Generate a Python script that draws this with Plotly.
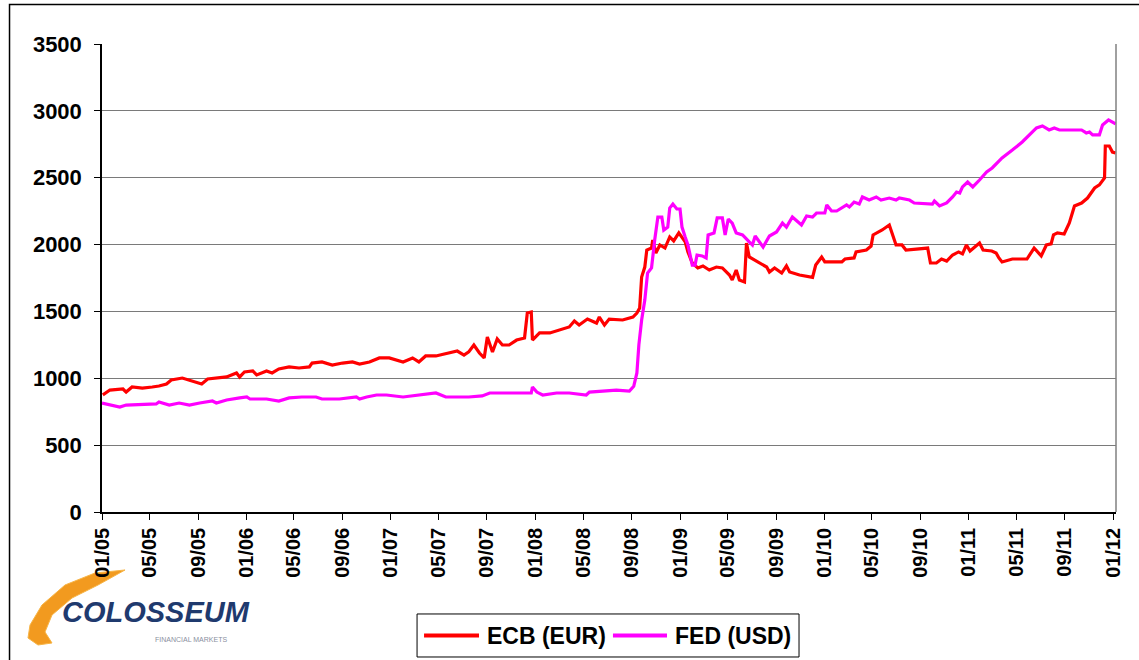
import plotly.graph_objects as go

ecb_dates = [
    "2005-01-03", "2005-01-21", "2005-02-23", "2005-03-03", "2005-03-18", "2005-04-13", "2005-05-08",
    "2005-05-25", "2005-06-13", "2005-06-25", "2005-07-23", "2005-08-18", "2005-09-10", "2005-09-25",
    "2005-10-25", "2005-11-12", "2005-12-07", "2005-12-15", "2005-12-27", "2006-01-17", "2006-01-27",
    "2006-02-21", "2006-03-07", "2006-03-24", "2006-04-19", "2006-05-14", "2006-06-09", "2006-06-16",
    "2006-07-11", "2006-08-06", "2006-09-01", "2006-09-26", "2006-10-14", "2006-11-08", "2006-12-03",
    "2006-12-28", "2007-02-01", "2007-02-25", "2007-03-13", "2007-03-30", "2007-04-25", "2007-05-20",
    "2007-06-18", "2007-07-05", "2007-07-17", "2007-07-30", "2007-08-13", "2007-08-25", "2007-09-02",
    "2007-09-15", "2007-09-27", "2007-10-10", "2007-10-27", "2007-11-15", "2007-12-05", "2007-12-12",
    "2007-12-22", "2007-12-25", "2008-01-12", "2008-02-07", "2008-03-02", "2008-03-27", "2008-04-09",
    "2008-04-21", "2008-05-12", "2008-06-04", "2008-06-11", "2008-06-24", "2008-07-06", "2008-08-09",
    "2008-09-04", "2008-09-14", "2008-09-21", "2008-09-26", "2008-10-04", "2008-10-09", "2008-10-21",
    "2008-10-24", "2008-11-01", "2008-11-11", "2008-11-24", "2008-12-06", "2008-12-16", "2008-12-29",
    "2009-01-14", "2009-01-21", "2009-02-01", "2009-02-15", "2009-02-28", "2009-03-16", "2009-04-03",
    "2009-04-18", "2009-05-06", "2009-05-13", "2009-05-23", "2009-05-31", "2009-06-13", "2009-06-18",
    "2009-06-25", "2009-07-20", "2009-08-08", "2009-08-15", "2009-08-28", "2009-09-15", "2009-09-27",
    "2009-10-05", "2009-10-30", "2009-12-02", "2009-12-10", "2009-12-25", "2010-01-02", "2010-02-14",
    "2010-02-22", "2010-03-17", "2010-03-22", "2010-04-17", "2010-04-29", "2010-05-04", "2010-05-27",
    "2010-06-14", "2010-07-01", "2010-07-16", "2010-07-26", "2010-09-19", "2010-09-26", "2010-10-11",
    "2010-10-24", "2010-11-06", "2010-11-21", "2010-12-06", "2010-12-16", "2010-12-26", "2011-01-04",
    "2011-01-16", "2011-01-28", "2011-02-06", "2011-02-28", "2011-03-11", "2011-03-18", "2011-03-26",
    "2011-04-21", "2011-05-28", "2011-06-15", "2011-07-03", "2011-07-16", "2011-07-28", "2011-08-03",
    "2011-08-13", "2011-08-30", "2011-09-12", "2011-09-25", "2011-10-13", "2011-10-28", "2011-11-15",
    "2011-11-27", "2011-12-10", "2011-12-12", "2011-12-22", "2011-12-30", "2012-01-07",
]
ecb_values = [
    875, 912, 920, 897, 935, 927, 935,
    942, 957, 987, 1002, 980, 957, 995,
    1002, 1010, 1040, 1010, 1047, 1055, 1025,
    1055, 1040, 1070, 1085, 1077, 1085, 1114,
    1122, 1099, 1114, 1122, 1107, 1122, 1152,
    1152, 1122, 1152, 1122, 1167, 1167, 1182,
    1204, 1174, 1197, 1249, 1189, 1152, 1309,
    1197, 1294, 1249, 1249, 1286, 1301, 1488,
    1496, 1286, 1339, 1339, 1361, 1384, 1428,
    1398, 1443, 1413, 1458, 1398, 1443, 1436,
    1458, 1488, 1525, 1758, 1832, 1959, 1974,
    2034, 1937, 1997, 1974, 2057, 2027, 2087,
    2020, 1945, 1862, 1825, 1840, 1810, 1832,
    1825, 1772, 1735, 1810, 1735, 1720, 2012,
    1907, 1862, 1832, 1795, 1825, 1787, 1840,
    1795, 1772, 1755, 1847, 1907, 1870, 1870,
    1892, 1900, 1945, 1959, 1989, 2072, 2109,
    2146, 1997, 1997, 1959, 1974, 1862, 1862,
    1892, 1877, 1922, 1945, 1930, 1997, 1952,
    1982, 2012, 1959, 1952, 1937, 1900, 1870,
    1892, 1892, 1974, 1915, 1997, 2005, 2072,
    2087, 2079, 2161, 2289, 2311, 2348, 2423,
    2446, 2498, 2737, 2737, 2692, 2685,
]

fed_dates = [
    "2005-01-01", "2005-02-15", "2005-03-03", "2005-05-18", "2005-05-25", "2005-06-20", "2005-07-15",
    "2005-08-10", "2005-09-05", "2005-10-07", "2005-10-17", "2005-11-12", "2005-12-15", "2006-01-02",
    "2006-01-10", "2006-02-21", "2006-03-24", "2006-04-19", "2006-05-21", "2006-06-26", "2006-07-11",
    "2006-08-24", "2006-10-06", "2006-10-14", "2006-11-01", "2006-11-26", "2006-12-21", "2007-02-01",
    "2007-04-25", "2007-05-20", "2007-07-17", "2007-08-20", "2007-09-08", "2007-10-10", "2007-12-22",
    "2007-12-25", "2008-01-05", "2008-01-20", "2008-02-24", "2008-03-27", "2008-05-09", "2008-05-17",
    "2008-06-19", "2008-07-24", "2008-08-26", "2008-09-06", "2008-09-14", "2008-09-19", "2008-09-26",
    "2008-10-04", "2008-10-11", "2008-10-21", "2008-10-29", "2008-11-06", "2008-11-16", "2008-11-21",
    "2008-12-01", "2008-12-06", "2008-12-14", "2008-12-24", "2009-01-01", "2009-01-06", "2009-01-14",
    "2009-01-21", "2009-02-01", "2009-02-08", "2009-02-13", "2009-02-26", "2009-03-08", "2009-03-13",
    "2009-03-28", "2009-04-05", "2009-04-18", "2009-04-25", "2009-05-03", "2009-05-13", "2009-05-23",
    "2009-06-08", "2009-06-25", "2009-07-03", "2009-07-10", "2009-07-20", "2009-07-30", "2009-08-15",
    "2009-09-02", "2009-09-17", "2009-09-27", "2009-10-12", "2009-11-04", "2009-11-17", "2009-12-02",
    "2009-12-12", "2010-01-02", "2010-01-07", "2010-01-19", "2010-02-01", "2010-02-16", "2010-02-26",
    "2010-03-05", "2010-03-17", "2010-03-30", "2010-04-07", "2010-04-24", "2010-05-12", "2010-05-24",
    "2010-06-14", "2010-07-01", "2010-07-09", "2010-08-04", "2010-08-16", "2010-10-01", "2010-10-06",
    "2010-10-19", "2010-11-06", "2010-11-21", "2010-12-01", "2010-12-09", "2010-12-16", "2010-12-29",
    "2011-01-11", "2011-01-28", "2011-02-15", "2011-03-01", "2011-03-13", "2011-03-26", "2011-04-21",
    "2011-05-16", "2011-06-21", "2011-07-06", "2011-07-23", "2011-08-05", "2011-08-18", "2011-10-13",
    "2011-10-25", "2011-11-02", "2011-11-10", "2011-11-27", "2011-12-05", "2011-12-20", "2012-01-07",
]
fed_values = [
    815, 785, 800, 808, 823, 800, 815,
    800, 815, 830, 815, 838, 853, 860,
    845, 845, 830, 853, 860, 860, 845,
    845, 860, 845, 860, 875, 875, 860,
    890, 860, 860, 868, 890, 890, 890,
    935, 897, 875, 890, 890, 875, 897,
    905, 912, 905, 940, 1040, 1250, 1436,
    1585, 1787, 1825, 2034, 2206, 2206, 2109,
    2131, 2273, 2303, 2266, 2266, 2131, 2057,
    1997, 1847, 1847, 1922, 1915, 1900, 2072,
    2087, 2199, 2199, 2072, 2191, 2161, 2087,
    2072, 2020, 1997, 2064, 2020, 1982, 2064,
    2094, 2161, 2131, 2206, 2146, 2214, 2206,
    2236, 2236, 2296, 2251, 2251, 2281, 2296,
    2281, 2318, 2303, 2356, 2333, 2356, 2333,
    2348, 2333, 2348, 2333, 2311, 2303, 2326,
    2289, 2311, 2356, 2393, 2386, 2431, 2468,
    2431, 2483, 2543, 2573, 2610, 2648, 2707,
    2767, 2872, 2887, 2857, 2872, 2857, 2857,
    2835, 2842, 2820, 2820, 2894, 2932, 2902,
]

y_ticks = [0, 500, 1000, 1500, 2000, 2500, 3000, 3500]
series_names = ["ECB (EUR)", "FED (USD)"]
series_colors = ["#FF0000", "#FF00FF"]

fig = go.Figure()
fig.add_trace(go.Scatter(x=ecb_dates, y=ecb_values, mode="lines", name=series_names[0],
                         line=dict(color=series_colors[0], width=3.2), showlegend=False))
fig.add_trace(go.Scatter(x=fed_dates, y=fed_values, mode="lines", name=series_names[1],
                         line=dict(color=series_colors[1], width=3.2), showlegend=False))

bold_font = "Liberation Sans, Arial, sans-serif"

fig.update_layout(
    width=1139, height=660, autosize=False,
    margin=dict(l=102, r=23, t=44, b=148),
    paper_bgcolor="white", plot_bgcolor="white",
    showlegend=False,
    xaxis=dict(type="date", range=["2005-01-01", "2012-01-08"],
               tick0="2005-01-01", dtick="M4", tickformat="%m/%y",
               tickangle=-90, ticks="outside", ticklen=6, tickcolor="black",
               tickfont=dict(family=bold_font, size=20, color="black", weight="bold"),
               showgrid=False, showline=True, linecolor="black", linewidth=1.5,
               zeroline=False),
    yaxis=dict(range=[0, 3500], tickvals=y_ticks, ticks="outside", ticklen=6, tickcolor="black",
               tickfont=dict(family=bold_font, size=22, color="black", weight="bold"),
               ticklabelstandoff=8,
               showgrid=True, gridcolor="#7A7A7A", gridwidth=1.2,
               showline=True, linecolor="black", linewidth=1.5,
               zeroline=False),
)

# plot area right border (gray) and outer frame
fig.add_shape(type="line", xref="paper", yref="paper", x0=1, x1=1, y0=0, y1=1,
              line=dict(color="#808080", width=1.5))
fig.add_shape(type="rect", xref="paper", yref="paper", x0=-0.0912, x1=1.2, y0=-0.5, y1=1.0844,
              line=dict(color="black", width=1.5), layer="below")

# legend box (drawn manually to match the reference sample length)
fig.add_shape(type="rect", xref="paper", yref="paper", x0=0.3107, x1=0.6874, y0=-0.3098, y1=-0.2179,
              line=dict(color="black", width=1), fillcolor="white")
legend_line_x = [(0.3176, 0.3718), (0.5039, 0.5572)]
legend_text_x = [0.3777, 0.5631]
for i in range(2):
    fig.add_shape(type="line", xref="paper", yref="paper",
                  x0=legend_line_x[i][0], x1=legend_line_x[i][1], y0=-0.2639, y1=-0.2639,
                  line=dict(color=series_colors[i], width=4))
    fig.add_annotation(xref="paper", yref="paper", x=legend_text_x[i], y=-0.2639,
                       xanchor="left", yanchor="middle", text=series_names[i], showarrow=False,
                       font=dict(family=bold_font, size=23, color="black", weight="bold"))

# logo: orange swoosh + text
fig.add_shape(type="path", xref="paper", yref="paper",
              path="M 0.0227,-0.1239 L -0.0069,-0.1303 L -0.0365,-0.1560 L -0.0592,-0.1987 "
                   "L -0.0710,-0.2415 L -0.0730,-0.2692 L -0.0631,-0.2842 L -0.0493,-0.2799 "
                   "L -0.0562,-0.2564 L -0.0493,-0.2201 L -0.0296,-0.1838 L -0.0039,-0.1560 Z",
              fillcolor="#F29A1F", line=dict(color="#F7B547", width=1), layer="below")
fig.add_annotation(xref="paper", yref="paper", x=0.0533, y=-0.2136, xanchor="center", yanchor="middle",
                   text="COLOSSEUM", showarrow=False,
                   font=dict(family=bold_font, size=29, color="#1F3A6E", weight="bold", style="italic"))
fig.add_annotation(xref="paper", yref="paper", x=0.0878, y=-0.2735, xanchor="center", yanchor="middle",
                   text="FINANCIAL MARKETS", showarrow=False,
                   font=dict(family=bold_font, size=7, color="#8A8FA0"))

fig.write_html("out.html", config={"displayModeBar": False},
               post_script="document.body.style.margin='0px';document.body.style.overflow='hidden';")
